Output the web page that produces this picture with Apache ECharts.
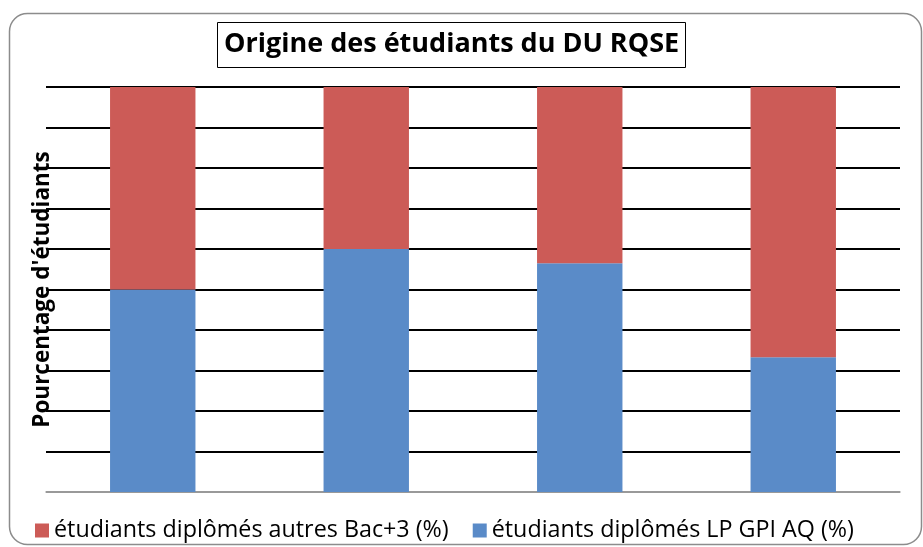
<!DOCTYPE html>
<html>
<head>
<meta charset="utf-8">
<script src="https://cdn.jsdelivr.net/npm/echarts@6/dist/echarts.min.js"></script>
<style>
  html, body { margin: 0; padding: 0; background: #fff; }
  #chart { width: 923px; height: 547px; }
</style>
</head>
<body>
<div id="chart"></div>
<script>
var categories = ['1', '2', '3', '4'];
var lpGpiAq = [50, 60, 56.5, 33.3];
var autresBac3 = [50, 40, 43.5, 66.7];
var nameAutres = 'étudiants diplômés autres Bac+3 (%)';
var nameLp = 'étudiants diplômés LP GPI AQ (%)';

var chart = echarts.init(document.querySelector('#chart'), null);
var font = '"Open Sans", sans-serif';
var option;
option = {
    backgroundColor: '#fff',
    textStyle: { fontFamily: font },
    graphic: [{
        type: 'rect',
        shape: { x: 9.5, y: 13.5, width: 912, height: 531, r: 18 },
        style: { fill: 'none', stroke: '#8c8c8c', lineWidth: 1.5 },
        z: -10
    }],
    title: {
        text: 'Origine des étudiants du DU RQSE',
        left: 217,
        top: 22,
        padding: [9, 7, 10, 7],
        borderColor: '#000',
        borderWidth: 1,
        textStyle: {
            fontFamily: font,
            fontSize: 27,
            fontWeight: 'bold',
            color: '#000'
        }
    },
    legend: {
        data: [nameAutres, nameLp],
        left: 30,
        top: 514,
        icon: 'rect',
        itemWidth: 14,
        itemHeight: 14,
        itemGap: 24,
        textStyle: { fontFamily: font, fontSize: 23.3, color: '#000' }
    },
    grid: {
        left: 46,
        right: 23,
        top: 87,
        bottom: 55
    },
    xAxis: {
        type: 'category',
        data: categories,
        axisLabel: { show: false },
        axisTick: { show: false },
        axisLine: { lineStyle: { color: '#999', width: 1.5 } }
    },
    yAxis: {
        type: 'value',
        min: 0,
        max: 100,
        interval: 10,
        name: "Pourcentage d'étudiants",
        nameLocation: 'middle',
        nameRotate: 90,
        nameGap: -8,
        nameTextStyle: { fontFamily: font, fontSize: 22.5, fontWeight: 'bold', color: '#000' },
        axisLabel: { show: false },
        axisLine: { show: false },
        axisTick: { show: false },
        splitLine: {
            lineStyle: {
                color: ['#999', '#000', '#000', '#000', '#000', '#000', '#000', '#000', '#000', '#000', '#000'],
                width: 2
            }
        }
    },
    series: [
        {
            name: nameLp,
            type: 'bar',
            stack: 'total',
            barCategoryGap: '60%',
            data: lpGpiAq,
            itemStyle: { color: '#5a8bc8' }
        },
        {
            name: nameAutres,
            type: 'bar',
            stack: 'total',
            data: autresBac3,
            itemStyle: { color: '#cc5b57' }
        }
    ]
};

if (option && typeof option === 'object') {
    chart.setOption(option);
}

window.addEventListener('resize', function () {
    chart.resize();
})
</script>
</body>
</html>
